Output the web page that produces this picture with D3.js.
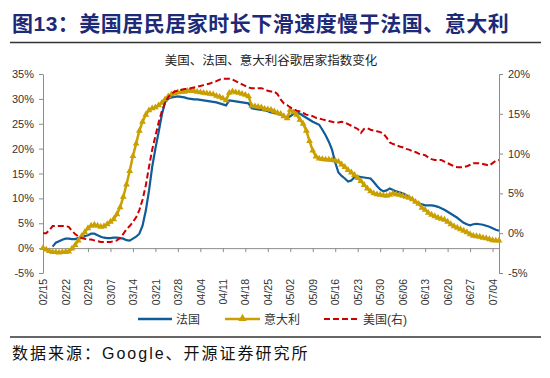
<!DOCTYPE html>
<html>
<head>
<meta charset="utf-8">
<script src="https://cdn.jsdelivr.net/npm/d3@7"></script>
<style>
  body { margin: 0; background: #fff; }
  svg text { font-family: "Liberation Sans", Arial, "Noto Sans CJK SC", sans-serif; }
</style>
</head>
<body>
<svg id="chart" width="550" height="378"></svg>
<script>
// x tick labels (every 7 days)
const tickLabels = ["02/15", "02/22", "02/29", "03/07", "03/14", "03/21", "03/28", "04/04",
  "04/11", "04/18", "04/25", "05/02", "05/09", "05/16", "05/23", "05/30", "06/06",
  "06/13", "06/20", "06/27", "07/04"];

// daily values, 02/15 .. 07/06, in %
const france = [null, null, null, 0.3, 1.1, 1.4, 1.7, 1.9, 1.9, 1.8,
  1.8, 2.0, 2.3, 2.4, 2.6, 2.9, 2.9, 2.6, 2.3, 2.1,
  2.0, 2.0, 2.1, 2.1, 2.0, 1.9, 1.6, 1.5, 1.9, 2.3,
  2.9, 4.5, 7.5, 11.5, 16.3, 20.0, 23.3, 26.8, 29.3, 30.0,
  30.3, 30.4, 30.5, 30.4, 30.3, 30.1, 30.0, 29.9, 29.9, 29.8,
  29.7, 29.6, 29.5, 29.4, 29.3, 29.1, 28.9, 28.7, 29.7, 29.6,
  29.5, 29.4, 29.3, 29.2, 29.1, 28.1, 28.0, 27.9, 27.8, 27.7,
  27.5, 27.3, 27.2, 27.0, 26.8, 26.5, 26.2, 26.5, 27.0, 27.3,
  27.0, 26.6, 26.2, 25.8, 25.4, 25.1, 24.8, 23.8, 22.7, 21.4,
  19.8, 17.2, 15.2, 14.5, 14.0, 13.4, 13.6, 14.3, 14.4, 14.3,
  14.2, 14.1, 14.0, 13.3, 12.5, 11.8, 11.4, 11.6, 12.0, 11.7,
  11.4, 11.2, 11.0, 10.7, 10.3, 9.8, 9.3, 9.0, 8.8, 8.6,
  8.6, 8.6, 8.5, 8.3, 8.0, 7.7, 7.3, 6.9, 6.5, 6.1,
  5.6, 5.1, 4.8, 4.6, 4.8, 4.9, 4.8, 4.7, 4.5, 4.3,
  4.0, 3.7, 3.5];

const italy = [0, -0.3, -0.6, -0.8, -0.8, -0.9, -0.8, -0.8, -0.7, -0.1,
  0.6, 1.5, 2.4, 3.2, 4.0, 4.5, 4.7, 4.5, 4.3, 4.4,
  4.8, 5.3, 5.8, 6.8, 8.2, 10.3, 12.8, 15.5, 18.5, 21.0,
  23.6, 25.4, 26.8, 27.7, 28.1, 28.3, 28.7, 29.2, 29.9, 30.5,
  30.9, 31.1, 31.3, 31.4, 31.4, 31.6, 31.7, 31.6, 31.4, 31.3,
  31.2, 31.1, 31.0, 30.9, 30.6, 30.4, 30.1, 29.7, 31.2, 31.5,
  31.3, 31.2, 31.0, 30.8, 30.5, 28.6, 28.5, 28.4, 28.3, 28.0,
  27.9, 27.8, 27.5, 27.2, 27.0, 26.5, 26.1, 27.8, 27.3, 26.8,
  25.8, 25.0, 23.6, 21.5, 19.6, 18.4, 18.0, 17.9, 17.8, 17.8,
  17.7, 17.6, 17.4, 16.8, 16.3, 15.7, 15.2, 14.7, 14.1, 13.5,
  12.7, 12.0, 11.4, 11.0, 10.8, 10.7, 10.6, 10.5, 10.7, 11.0,
  10.8, 10.7, 10.5, 10.3, 10.1, 9.8, 9.3, 8.9, 8.1, 7.7,
  7.1, 6.7, 6.4, 6.1, 5.9, 5.7, 5.3, 4.8, 4.4, 4.1,
  3.8, 3.5, 3.2, 2.8, 2.5, 2.4, 2.3, 2.1, 2.0, 1.8,
  1.6, 1.5, 1.5];

// right axis
const us = [0, 0, 0.4, 0.9, 0.9, 0.9, 0.9, 0.9, 0.8, 0.3,
  -0.1, -0.4, -0.6, -0.7, -0.8, -0.8, -0.9, -1.0, -1.1, -1.1,
  -1.1, -1.1, -1.0, -0.9, -0.6, -0.1, 0.5, 0.9, 1.4, 2.0,
  2.9, 4.2, 6.0, 8.3, 10.5, 12.2, 13.9, 15.3, 16.4, 17.1,
  17.5, 17.8, 17.9, 18.0, 18.1, 18.1, 18.2, 18.3, 18.4, 18.5,
  18.6, 18.7, 18.8, 19.0, 19.1, 19.3, 19.4, 19.4, 19.4, 19.3,
  19.1, 18.9, 18.7, 18.5, 18.3, 18.2, 18.2, 18.2, 18.2, 18.1,
  17.9, 17.8, 17.8, 17.5, 16.8, 16.3, 16.1, 15.8, 15.6, 15.4,
  15.3, 15.1, 14.9, 14.8, 14.7, 14.5, 14.4, 14.3, 14.2, 14.1,
  14.0, 13.9, 13.9, 14.0, 13.9, 13.7, 13.5, 13.3, 13.1, 12.6,
  13.1, 13.2, 13.0, 12.9, 12.8, 12.7, 12.5, 12.0, 11.4, 11.2,
  11.1, 10.9, 10.8, 10.6, 10.5, 10.3, 10.2, 10.0, 9.9, 9.8,
  9.5, 9.3, 9.2, 9.2, 9.2, 9.0, 8.8, 8.6, 8.4, 8.3,
  8.3, 8.3, 8.4, 8.6, 8.8, 8.8, 8.8, 8.7, 8.6, 8.5,
  8.8, 9.1, 9.2];

const leftTicks = [-5, 0, 5, 10, 15, 20, 25, 30, 35];
const rightTicks = [-5, 0, 5, 10, 15, 20];

const startDate = new Date(2020, 1, 15);
const dates = d3.timeDay.range(startDate, d3.timeDay.offset(startDate, france.length));
const parseTick = d3.timeParse("%Y/%m/%d");
const tickDates = tickLabels.map(s => parseTick("2020/" + s));

const blue = "#105b98", gold = "#c9a000", red = "#cc0000", axisColor = "#8c8c8c";

const svg = d3.select("#chart");
const plot = { left: 43, right: 499, top: 74, bottom: 273 };

const x = d3.scaleTime()
  .domain([dates[0], dates[dates.length - 1]])
  .range([plot.left, plot.right]);
const yL = d3.scaleLinear().domain([-5, 35]).range([plot.bottom, plot.top]);
const yR = d3.scaleLinear().domain([-5, 20]).range([plot.bottom, plot.top]);

// title
svg.append("text")
  .attr("x", 12).attr("y", 31)
  .attr("font-family", "Noto Sans CJK SC")
  .attr("font-size", "21px")
  .attr("font-weight", "bold")
  .attr("letter-spacing", "0.5px")
  .attr("fill", "#1c2a78")
  .text("图13：美国居民居家时长下滑速度慢于法国、意大利");

svg.append("line")
  .attr("x1", 10).attr("x2", 541).attr("y1", 42.5).attr("y2", 42.5)
  .attr("stroke", "#333").attr("stroke-width", 1.5);

svg.append("text")
  .attr("x", 271).attr("y", 65)
  .attr("text-anchor", "middle")
  .attr("font-size", "12.5px")
  .attr("fill", "#222")
  .text("美国、法国、意大利谷歌居家指数变化");

// axes
const styleAxis = g => {
  g.selectAll("path, line").attr("stroke", axisColor);
  g.selectAll("text")
    .attr("fill", "#333")
    .style("font-size", "11px")
    .style("font-family", "Liberation Sans, Arial, sans-serif");
};

svg.append("g")
  .attr("transform", `translate(${plot.left},0)`)
  .call(d3.axisLeft(yL).tickValues(leftTicks).tickFormat(d => d + "%")
    .tickSize(4).tickSizeOuter(0).tickPadding(5))
  .call(styleAxis);

svg.append("g")
  .attr("transform", `translate(${plot.right},0)`)
  .call(d3.axisRight(yR).tickValues(rightTicks).tickFormat(d => d + "%")
    .tickSize(4).tickSizeOuter(0).tickPadding(5))
  .call(styleAxis);

const xAxisY = yL(0);
const xg = svg.append("g")
  .attr("transform", `translate(0,${xAxisY})`)
  .call(d3.axisBottom(x).tickValues(tickDates).tickFormat((d, i) => tickLabels[i])
    .tickSize(4).tickSizeOuter(0))
  .call(styleAxis);

xg.selectAll(".tick text")
  .attr("x", 0).attr("y", 0).attr("dy", "0.35em")
  .attr("transform", `translate(0,${plot.bottom - xAxisY + 6}) rotate(-90)`)
  .style("text-anchor", "end")
  .style("font-size", "10.5px");

// series
const lineL = d3.line()
  .defined(d => d.v != null)
  .x(d => x(d.date))
  .y(d => yL(d.v));
const lineR = d3.line()
  .x(d => x(d.date))
  .y(d => yR(d.v));

const frData = dates.map((date, i) => ({ date, v: france[i] }));
const itData = dates.map((date, i) => ({ date, v: italy[i] }));
const usData = dates.map((date, i) => ({ date, v: us[i] }));

svg.append("path")
  .datum(frData)
  .attr("d", lineL)
  .attr("fill", "none")
  .attr("stroke", blue)
  .attr("stroke-width", 2.2);

svg.append("path")
  .datum(itData)
  .attr("d", lineL)
  .attr("fill", "none")
  .attr("stroke", gold)
  .attr("stroke-width", 2.5);

const tri = d3.symbol().type(d3.symbolTriangle).size(20);
svg.append("g")
  .selectAll("path")
  .data(itData)
  .join("path")
  .attr("d", tri)
  .attr("transform", d => `translate(${x(d.date)},${yL(d.v)})`)
  .attr("fill", gold);

svg.append("path")
  .datum(usData)
  .attr("d", lineR)
  .attr("fill", "none")
  .attr("stroke", red)
  .attr("stroke-width", 2)
  .attr("stroke-dasharray", "6,3");

// legend
const legendY = 319;
const legend = svg.append("g");
legend.append("line")
  .attr("x1", 138).attr("x2", 172).attr("y1", legendY).attr("y2", legendY)
  .attr("stroke", blue).attr("stroke-width", 2.5);
legend.append("text").attr("x", 176).attr("y", legendY + 4.5)
  .attr("font-size", "12px").attr("fill", "#333").text("法国");

legend.append("line")
  .attr("x1", 225).attr("x2", 260).attr("y1", legendY).attr("y2", legendY)
  .attr("stroke", gold).attr("stroke-width", 2.5);
legend.append("path")
  .attr("d", d3.symbol().type(d3.symbolTriangle).size(30))
  .attr("transform", `translate(242.5,${legendY - 0.5})`)
  .attr("fill", gold);
legend.append("text").attr("x", 264).attr("y", legendY + 4.5)
  .attr("font-size", "12px").attr("fill", "#333").text("意大利");

legend.append("line")
  .attr("x1", 324).attr("x2", 358).attr("y1", legendY).attr("y2", legendY)
  .attr("stroke", red).attr("stroke-width", 2).attr("stroke-dasharray", "6,3");
legend.append("text").attr("x", 363).attr("y", legendY + 4.5)
  .attr("font-size", "12px").attr("fill", "#333").text("美国(右)");

// source
svg.append("line")
  .attr("x1", 10).attr("x2", 541).attr("y1", 337).attr("y2", 337)
  .attr("stroke", "#333").attr("stroke-width", 1.5);

svg.append("text")
  .attr("x", 12).attr("y", 359)
  .attr("font-family", "Liberation Serif, Noto Sans CJK SC, serif")
  .attr("font-size", "16px")
  .attr("letter-spacing", "2px")
  .attr("fill", "#111")
  .text("数据来源：Google、开源证券研究所");
</script>
</body>
</html>
